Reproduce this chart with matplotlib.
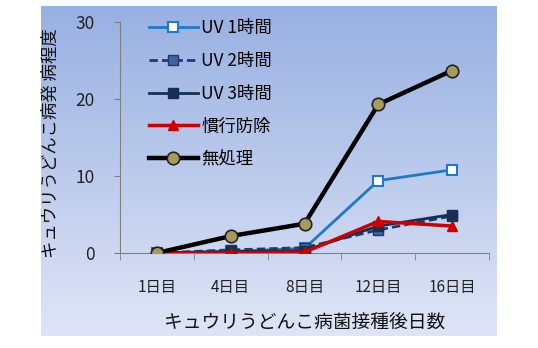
import numpy as np
import matplotlib
matplotlib.use("Agg")
import matplotlib.pyplot as plt
from matplotlib.ticker import FixedLocator, NullFormatter

plt.rcParams['font.family'] = ['Noto Sans CJK JP', 'DejaVu Sans']

categories = ["1日目", "4日目", "8日目", "12日目", "16日目"]
uv1 = [0.0, 0.2, 0.6, 9.4, 10.8]
uv2 = [0.0, 0.4, 0.7, 3.0, 4.8]
uv3 = [0.0, 0.2, 0.3, 3.5, 5.0]
kanko = [0.0, 0.0, 0.1, 4.1, 3.5]
muyaku = [0.0, 2.2, 3.8, 19.3, 23.7]
series_labels = ["UV 1時間", "UV 2時間", "UV 3時間", "慣行防除", "無処理"]
yticks = [0, 10, 20, 30]

W, H = 538, 348
fig = plt.figure(figsize=(W / 100, H / 100), dpi=100)
fig.patch.set_facecolor("white")

# gradient background
bg = fig.add_axes([41 / W, (H - 336) / H, (497 - 41) / W, (336 - 6) / H], zorder=-10)
top = np.array([152, 176, 226]) / 255
bot = np.array([223, 229, 246]) / 255
t = np.linspace(0, 1, 256)[:, None]
grad = top[None, :] * (1 - t) + bot[None, :] * t
bg.imshow(grad[:, None, :], aspect="auto", extent=[0, 1, 0, 1])
bg.set_axis_off()

ax = fig.add_axes([120 / W, (H - 253) / H, (489 - 120) / W, (253 - 22) / H])
ax.patch.set_alpha(0)
x = np.arange(len(categories))

ax.plot(x, uv1, color="#1f78c8", lw=2.0, marker="s", ms=7, mfc="white", mec="#1f78c8", mew=1.5, label=series_labels[0], zorder=3)
ax.plot(x, uv2, color="#1f3a6b", lw=2.0, ls=(0, (3, 1.5)), marker="s", ms=7, mfc="#3e649e", mec="#1f3a6b", mew=1.0, label=series_labels[1], zorder=3)
ax.plot(x, uv3, color="#172f52", lw=2.0, marker="s", ms=7, mfc="#172f52", mec="#172f52", label=series_labels[2], zorder=3)
ax.plot(x, kanko, color="#cc0000", lw=2.5, marker="^", ms=7, mfc="#cc0000", mec="#cc0000", label=series_labels[3], zorder=4)
ax.plot(x, muyaku, color="black", lw=3.2, marker="o", ms=9, mfc="#a8995c", mec="#222222", mew=1.2, label=series_labels[4], zorder=5)

ax.set_xlim(-0.5, len(categories) - 0.5)
ax.set_ylim(0, 30)
ax.set_yticks(yticks)
ax.set_yticklabels([str(v) for v in yticks], fontsize=12.5, color="#222222")
ax.set_xticks(x)
ax.set_xticklabels(categories, fontsize=11, color="#222222")
ax.xaxis.set_minor_locator(FixedLocator(np.arange(-0.5, len(categories), 1.0)))
ax.xaxis.set_minor_formatter(NullFormatter())
ax.tick_params(axis="x", which="major", length=0, pad=19)
ax.tick_params(axis="x", which="minor", length=5, color="#808080", direction="out")
ax.tick_params(axis="y", length=4, color="#808080", direction="out", pad=14)

for s in ["top", "right"]:
    ax.spines[s].set_visible(False)
ax.spines["left"].set_color("#808080")
ax.spines["bottom"].set_color("#808080")

ax.set_xlabel("キュウリうどんこ病菌接種後日数", fontsize=13.5, labelpad=12, color="#111111")
fig.text(51 / W, 1 - 143 / H, "キュウリうどんこ病発 病程度", rotation=90, fontsize=12.5, ha="center", va="center", color="#111111")

leg = fig.legend(loc="upper left", bbox_to_anchor=(137 / W, 1 - 7 / H), frameon=False,
                 fontsize=12.5, handlelength=2.8, labelspacing=0.85, handletextpad=0.2, borderpad=0.2)

fig.savefig("out.png", dpi=100)
